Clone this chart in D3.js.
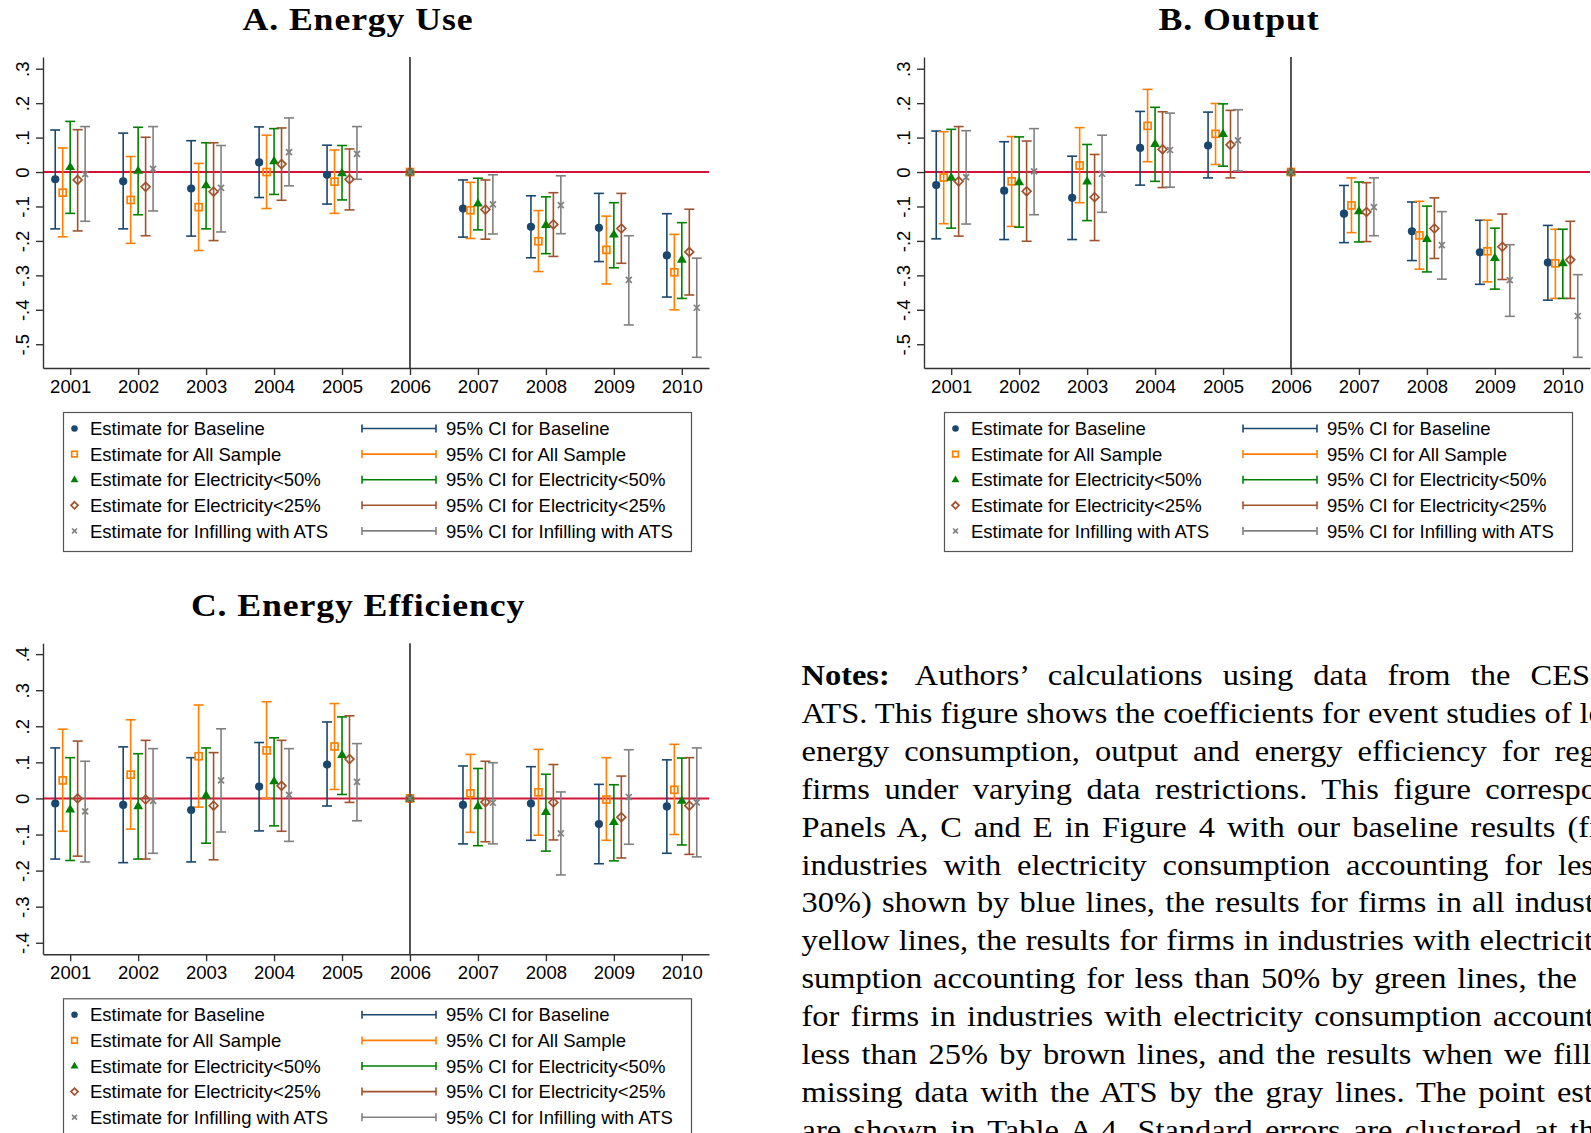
<!DOCTYPE html>
<html><head><meta charset="utf-8">
<script src="https://cdn.jsdelivr.net/npm/d3@7/dist/d3.min.js"></script>
<style>body{margin:0;background:#fff;overflow:hidden}svg{display:block}</style>
</head><body>
<svg id="chart" width="1591" height="1133"></svg>
<script>
// ---------- data ----------
const years = [2001,2002,2003,2004,2005,2006,2007,2008,2009,2010];
const seriesNames = ["Baseline","All Sample","Electricity<50%","Electricity<25%","Infilling with ATS"];
const yTicksAB = [-0.5,-0.4,-0.3,-0.2,-0.1,0,0.1,0.2,0.3];
const yTicksC = [-0.4,-0.3,-0.2,-0.1,0,0.1,0.2,0.3,0.4];
const panelTitles = ["A. Energy Use","B. Output","C. Energy Efficiency"];

// Panel A: Energy Use
const useEstBaseline = [-0.021,-0.027,-0.048,0.028,-0.008,0,-0.106,-0.159,-0.162,-0.242];
const useEstAll      = [-0.060,-0.081,-0.102,0.000,-0.028,0,-0.111,-0.201,-0.226,-0.291];
const useEstE50      = [0.015,0.004,-0.038,0.032,-0.003,0,-0.091,-0.153,-0.181,-0.254];
const useEstE25      = [-0.023,-0.043,-0.057,0.023,-0.021,0,-0.109,-0.152,-0.164,-0.232];
const useEstATS      = [-0.006,0.009,-0.046,0.058,0.053,0,-0.094,-0.096,-0.313,-0.394];
const useLoBaseline  = [-0.165,-0.165,-0.186,-0.074,-0.093,null,-0.189,-0.249,-0.260,-0.363];
const useLoAll       = [-0.188,-0.207,-0.228,-0.106,-0.120,null,-0.193,-0.289,-0.325,-0.400];
const useLoE50       = [-0.120,-0.124,-0.165,-0.065,-0.081,null,-0.168,-0.237,-0.278,-0.367];
const useLoE25       = [-0.171,-0.185,-0.199,-0.082,-0.110,null,-0.195,-0.245,-0.265,-0.357];
const useLoATS       = [-0.143,-0.113,-0.174,-0.040,-0.021,null,-0.180,-0.179,-0.444,-0.538];
const useHiBaseline  = [0.122,0.113,0.091,0.131,0.078,null,-0.023,-0.069,-0.062,-0.121];
const useHiAll       = [0.070,0.045,0.025,0.107,0.064,null,-0.030,-0.112,-0.128,-0.181];
const useHiE50       = [0.147,0.130,0.085,0.126,0.077,null,-0.018,-0.072,-0.089,-0.147];
const useHiE25       = [0.123,0.101,0.085,0.128,0.067,null,-0.023,-0.060,-0.062,-0.108];
const useHiATS       = [0.132,0.132,0.077,0.157,0.132,null,-0.008,-0.011,-0.185,-0.250];

// Panel B: Output
const outEstBaseline = [-0.038,-0.054,-0.075,0.070,0.077,0,-0.121,-0.172,-0.233,-0.263];
const outEstAll      = [-0.016,-0.027,0.019,0.134,0.111,0,-0.097,-0.184,-0.230,-0.265];
const outEstE50      = [-0.016,-0.029,-0.027,0.082,0.111,0,-0.113,-0.194,-0.249,-0.264];
const outEstE25      = [-0.027,-0.056,-0.073,0.066,0.079,0,-0.116,-0.164,-0.217,-0.255];
const outEstATS      = [-0.015,0.002,-0.005,0.064,0.092,0,-0.102,-0.212,-0.314,-0.418];
const outLoBaseline  = [-0.194,-0.196,-0.196,-0.038,-0.017,null,-0.205,-0.257,-0.326,-0.372];
const outLoAll       = [-0.150,-0.158,-0.089,0.030,0.022,null,-0.176,-0.282,-0.319,-0.367];
const outLoE50       = [-0.163,-0.160,-0.141,-0.027,0.017,null,-0.203,-0.290,-0.340,-0.367];
const outLoE25       = [-0.186,-0.201,-0.199,-0.045,-0.017,null,-0.202,-0.251,-0.312,-0.367];
const outLoATS       = [-0.151,-0.124,-0.117,-0.044,0.003,null,-0.185,-0.311,-0.419,-0.538];
const outHiBaseline  = [0.119,0.088,0.046,0.176,0.174,null,-0.039,-0.087,-0.140,-0.155];
const outHiAll       = [0.117,0.103,0.129,0.240,0.199,null,-0.017,-0.085,-0.140,-0.166];
const outHiE50       = [0.124,0.102,0.080,0.188,0.198,null,-0.029,-0.099,-0.163,-0.166];
const outHiE25       = [0.132,0.090,0.051,0.175,0.179,null,-0.031,-0.075,-0.122,-0.143];
const outHiATS       = [0.120,0.126,0.107,0.171,0.181,null,-0.017,-0.115,-0.211,-0.298];

// Panel C: Energy Efficiency
const effEstBaseline = [-0.014,-0.018,-0.032,0.033,0.094,0,-0.018,-0.014,-0.071,-0.022];
const effEstAll      = [0.050,0.066,0.117,0.133,0.144,0,0.014,0.017,-0.003,0.024];
const effEstE50      = [-0.030,-0.021,0.009,0.048,0.121,0,-0.021,-0.037,-0.065,-0.006];
const effEstE25      = [0.000,-0.003,-0.020,0.035,0.109,0,-0.010,-0.011,-0.052,-0.020];
const effEstATS      = [-0.036,-0.007,0.050,0.010,0.046,0,-0.012,-0.097,0.004,-0.011];
const effLoBaseline  = [-0.168,-0.178,-0.176,-0.090,-0.021,null,-0.126,-0.116,-0.181,-0.152];
const effLoAll       = [-0.091,-0.085,-0.024,0.000,0.025,null,-0.094,-0.102,-0.116,-0.100];
const effLoE50       = [-0.172,-0.168,-0.124,-0.076,0.011,null,-0.131,-0.146,-0.173,-0.129];
const effLoE25       = [-0.160,-0.168,-0.170,-0.091,-0.011,null,-0.120,-0.115,-0.165,-0.155];
const effLoATS       = [-0.176,-0.152,-0.093,-0.119,-0.062,null,-0.126,-0.212,-0.127,-0.162];
const effHiBaseline  = [0.140,0.143,0.113,0.155,0.212,null,0.090,0.088,0.039,0.107];
const effHiAll       = [0.192,0.218,0.259,0.268,0.263,null,0.122,0.136,0.113,0.150];
const effHiE50       = [0.113,0.124,0.140,0.168,0.226,null,0.083,0.067,0.038,0.112];
const effHiE25       = [0.159,0.161,0.127,0.161,0.229,null,0.103,0.094,0.062,0.113];
const effHiATS       = [0.103,0.138,0.193,0.138,0.152,null,0.099,0.018,0.135,0.140];

// Notes text ("|" marks where the visible part of the line ends)
const noteBold = "Notes:";
const noteLines = [
  "Authors’ calculations using data from the CES| and the",
  "ATS. This figure shows the coefficients for event studies of lo|g",
  "energy consumption, output and energy efficiency for reg|ulated",
  "firms under varying data restrictions. This figure correspo|nds to",
  "Panels A, C and E in Figure 4 with our baseline results (fi|rms in",
  "industries with electricity consumption accounting for les|s than",
  "30%) shown by blue lines, the results for firms in all indust|ries by",
  "yellow lines, the results for firms in industries with electricit|y con-",
  "sumption accounting for less than 50% by green lines, the| results",
  "for firms in industries with electricity consumption account|ing for",
  "less than 25% by brown lines, and the results when we fill| in",
  "missing data with the ATS by the gray lines. The point est|imates",
  "are shown in Table A.4. Standard errors are clustered at th|e firm"
];

// ---------- styles / layout ----------
const colors = ["#1a476f","#ff8000","#008000","#a0522d","#808080"];
const zeroColor = "#d2143a";
const sans = "'Liberation Sans', Arial, sans-serif";
const serif = "'Liberation Serif', 'Times New Roman', serif";
const offsets = [-0.22,-0.11,0,0.11,0.22];
const lineEnds = [1590,1597,1596,1597,1598,1594,1594,1593,1577,1594,1591,1593,1595];
const tailGap = [0,0,0,0,0,0,0,0,8,0,0,0,0];

const svg = d3.select("#chart");
svg.append("rect").attr("width",1591).attr("height",1133).attr("fill","#fff");

const panels = [
  {title:panelTitles[0], ox:0, oy:0, dom:[-0.569,0.334], ticks:yTicksAB,
   est:[useEstBaseline,useEstAll,useEstE50,useEstE25,useEstATS],
   lo:[useLoBaseline,useLoAll,useLoE50,useLoE25,useLoATS],
   hi:[useHiBaseline,useHiAll,useHiE50,useHiE25,useHiATS]},
  {title:panelTitles[1], ox:881, oy:0, dom:[-0.569,0.334], ticks:yTicksAB,
   est:[outEstBaseline,outEstAll,outEstE50,outEstE25,outEstATS],
   lo:[outLoBaseline,outLoAll,outLoE50,outLoE25,outLoATS],
   hi:[outHiBaseline,outHiAll,outHiE50,outHiE25,outHiATS]},
  {title:panelTitles[2], ox:0, oy:586.3, dom:[-0.432,0.43], ticks:yTicksC,
   est:[effEstBaseline,effEstAll,effEstE50,effEstE25,effEstATS],
   lo:[effLoBaseline,effLoAll,effLoE50,effLoE25,effLoATS],
   hi:[effHiBaseline,effHiAll,effHiE50,effHiE25,effHiATS]}
];

function drawMarker(g, s, cx, cy, scale){
  const k = scale||1, c = colors[s];
  if(s===0){
    g.append("circle").attr("cx",cx).attr("cy",cy).attr("r",4.1*k).attr("fill",c);
  } else if(s===1){
    const h=3.5*k;
    g.append("rect").attr("x",cx-h).attr("y",cy-h).attr("width",2*h).attr("height",2*h)
      .attr("fill","none").attr("stroke",c).attr("stroke-width",1.7);
  } else if(s===2){
    const w=4.9*k, ht=8.4*k;
    g.append("path").attr("d",`M${cx},${cy-ht*0.62}L${cx+w},${cy+ht*0.38}L${cx-w},${cy+ht*0.38}Z`).attr("fill",c);
  } else if(s===3){
    const h=4.4*k;
    g.append("path").attr("d",`M${cx},${cy-h}L${cx+h},${cy}L${cx},${cy+h}L${cx-h},${cy}Z`)
      .attr("fill","none").attr("stroke",c).attr("stroke-width",1.7);
  } else {
    const h=3*k;
    g.append("path").attr("d",`M${cx-h},${cy-h}L${cx+h},${cy+h}M${cx-h},${cy+h}L${cx+h},${cy-h}`)
      .attr("stroke",c).attr("stroke-width",1.7);
  }
}

function fmtTick(d){
  if(Math.abs(d)<1e-9) return "0";
  return (d<0?"-":"") + d3.format(".1f")(Math.abs(d)).replace(/^0/,"");
}

panels.forEach(p=>{
  const g = svg.append("g").attr("transform",`translate(${p.ox},${p.oy})`);
  const x = d3.scaleLinear().domain([2000.6,2010.4]).range([43,709]);
  const y = d3.scaleLinear().domain(p.dom).range([368,57]);

  // title (serif bold, widened to mimic Computer Modern Bold)
  g.append("text").attr("transform","translate(358,30) scale(1.1,1)").attr("text-anchor","middle")
    .attr("font-family",serif).attr("font-weight","bold").attr("font-size",32.5)
    .attr("letter-spacing",0.8).text(p.title);

  // zero line and event line
  g.append("line").attr("x1",43).attr("x2",709).attr("y1",y(0)).attr("y2",y(0))
    .attr("stroke",zeroColor).attr("stroke-width",2);
  g.append("line").attr("x1",x(2006)).attr("x2",x(2006)).attr("y1",57).attr("y2",368)
    .attr("stroke","#2a2a2a").attr("stroke-width",1.6);

  // axes
  const ya = g.append("g").attr("transform","translate(43,0)")
    .call(d3.axisLeft(y).tickValues(p.ticks).tickSize(7).tickSizeOuter(0).tickFormat(fmtTick));
  ya.selectAll("text").attr("x",null).attr("dy",null)
    .attr("transform","translate(-14,0) rotate(-90)").attr("text-anchor","middle");
  const xa = g.append("g").attr("transform","translate(0,368)")
    .call(d3.axisBottom(x).tickValues(years).tickSize(7).tickSizeOuter(0).tickPadding(5).tickFormat(d3.format("d")));
  [ya,xa].forEach(a=>{
    a.attr("font-family",sans).attr("font-size",18.5);
    a.selectAll("text").attr("fill","#000");
    a.selectAll("line,path").attr("stroke","#333").attr("stroke-width",1.4);
  });

  // CIs
  const ci = g.append("g");
  p.est.forEach((arr,s)=>{
    years.forEach((yr,i)=>{
      if(p.lo[s][i]==null) return;
      const cx = x(yr+offsets[s]);
      const y1 = y(p.lo[s][i]), y2 = y(p.hi[s][i]);
      ci.append("line").attr("x1",cx).attr("x2",cx).attr("y1",y1).attr("y2",y2)
        .attr("stroke",colors[s]).attr("stroke-width",1.6);
      [y1,y2].forEach(yy=>ci.append("line").attr("x1",cx-5).attr("x2",cx+5).attr("y1",yy).attr("y2",yy)
        .attr("stroke",colors[s]).attr("stroke-width",1.6));
    });
  });
  // markers
  const mk = g.append("g");
  p.est.forEach((arr,s)=>{
    years.forEach((yr,i)=>{
      const off = yr===2006 ? 0 : offsets[s];
      drawMarker(mk, s, x(yr+off), y(arr[i]));
    });
  });

  // legend
  const lg = g.append("g");
  lg.append("rect").attr("x",63.5).attr("y",412.5).attr("width",628).attr("height",139)
    .attr("fill","#fff").attr("stroke","#555").attr("stroke-width",1.2);
  seriesNames.forEach((nm,s)=>{
    const cy = 428.5 + s*25.6;
    drawMarker(lg, s, 74.5, cy, 0.8);
    lg.append("text").attr("x",90).attr("y",cy+6.6).attr("font-family",sans).attr("font-size",18.5)
      .text("Estimate for "+nm);
    lg.append("line").attr("x1",362).attr("x2",436).attr("y1",cy).attr("y2",cy).attr("stroke",colors[s]).attr("stroke-width",1.6);
    [362,436].forEach(xx=>lg.append("line").attr("x1",xx).attr("x2",xx).attr("y1",cy-4).attr("y2",cy+4)
      .attr("stroke",colors[s]).attr("stroke-width",1.6));
    lg.append("text").attr("x",446).attr("y",cy+6.6).attr("font-family",sans).attr("font-size",18.5)
      .text("95% CI for "+nm);
  });
});

// notes (justified lines, clipped by the page edge)
const x0 = 801.5, y0 = 685, lh = 37.9, noteSize = 29.5, sx = 1.1;
noteLines.forEach((line,i)=>{
  const parts = line.split("|");
  const t = svg.append("text").attr("transform",`translate(${x0},${y0+i*lh}) scale(${sx},1)`)
    .attr("font-family",serif).attr("font-size",noteSize).attr("fill","#000");
  let pre = parts[0], extra = 0;
  if(i===0){
    t.append("tspan").attr("font-weight","bold").text(noteBold);
    t.append("tspan").attr("dx",6).text(" "+pre);
    pre = noteBold+" "+pre; extra = 6;
  } else {
    t.append("tspan").text(pre);
  }
  const w = t.node().getComputedTextLength() + extra;
  const n = (pre.match(/ /g)||[]).length;
  t.style("word-spacing", Math.max(0,((lineEnds[i]-x0)/sx - w)/n)+"px");
  t.append("tspan").attr("dx",tailGap[i]).text(parts[1]);
});
</script>
</body></html>
